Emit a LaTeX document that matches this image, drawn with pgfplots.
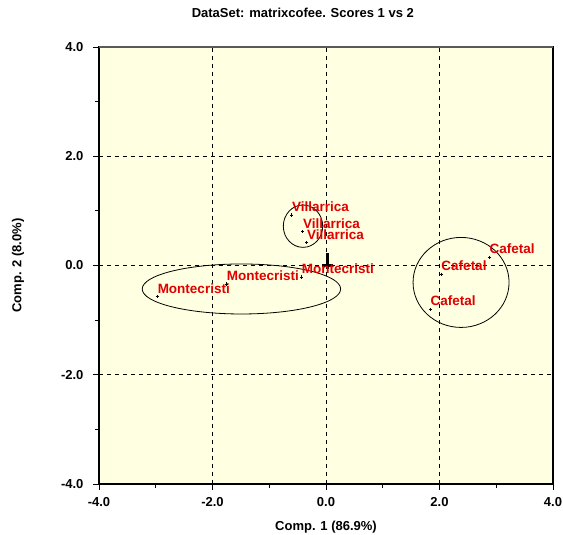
\documentclass[border=0pt]{standalone}
\usepackage{fontspec}
\setmainfont{Liberation Sans}
\usepackage{pgfplots}
\pgfplotsset{compat=1.18}
\usetikzlibrary{calc}
\definecolor{bgyellow}{RGB}{255,255,225}
\definecolor{lblred}{RGB}{225,0,0}
\definecolor{topgray}{RGB}{90,90,90}
\begin{document}
\begin{tikzpicture}
\begin{axis}[
  at={(0,0)}, anchor=south west,
  scale only axis, width=454pt, height=437pt,
  xmin=-4, xmax=4, ymin=-4, ymax=4,
  xtick={-4,-2,0,2,4}, ytick={-4,-2,0,2,4},
  minor xtick={-3,-1,1,3}, minor ytick={-3,-1,1,3},
  tick align=outside, tick pos=left,
  major tick length=6pt, minor tick length=4pt,
  every tick/.style={black, line width=0.8pt},
  axis line style={black, line width=1.2pt},
  axis background/.style={fill=bgyellow},
  tick label style={font=\fontsize{13}{15}\selectfont\bfseries},
  xticklabel style={yshift=-4pt},
  yticklabel style={xshift=-6pt},
  /pgf/number format/.cd, fixed, fixed zerofill, precision=1, assume math mode=true,
  /pgfplots/.cd,
  xlabel={Comp. 1 (86.9\%)}, ylabel={Comp. 2 (8.0\%)},
  label style={font=\fontsize{13}{15}\selectfont\bfseries},
  xlabel style={at={(axis description cs:0.5,-0.098)}, anchor=center},
  ylabel style={at={(axis description cs:-0.1784,0.5)}, anchor=center},
  title={DataSet: matrixcofee. Scores 1 vs 2},
  title style={at={(axis description cs:0.449,1.064)}, anchor=center, font=\fontsize{13}{15}\selectfont\bfseries},
  clip=false,
]
% grid
\draw[black, dashed, line width=0.7pt, dash pattern=on 4pt off 4pt] (axis cs:-2,-4) -- (axis cs:-2,4);
\draw[black, dashed, line width=0.7pt, dash pattern=on 4pt off 4pt] (axis cs:0,-4) -- (axis cs:0,4);
\draw[black, dashed, line width=0.7pt, dash pattern=on 4pt off 4pt] (axis cs:2,-4) -- (axis cs:2,4);
\draw[black, dashed, line width=0.7pt, dash pattern=on 4pt off 4pt] (axis cs:-4,-2) -- (axis cs:4,-2);
\draw[black, dashed, line width=0.7pt, dash pattern=on 4pt off 4pt] (axis cs:-4,0) -- (axis cs:4,0);
\draw[black, dashed, line width=0.7pt, dash pattern=on 4pt off 4pt] (axis cs:-4,2) -- (axis cs:4,2);
% ellipses
\draw[black, line width=0.8pt] (axis cs:-0.405,0.72) ellipse [x radius=19.7pt, y radius=21.2pt];
\draw[black, line width=0.8pt] (axis cs:-1.49,-0.43) ellipse [x radius=99.2pt, y radius=25pt];
\draw[black, line width=0.8pt] (axis cs:2.38,-0.31) ellipse [x radius=48pt, y radius=45pt];
% thick cross
\draw[black, line width=2.4pt] (axis cs:0.03,0.22) -- (axis cs:0.03,-0.065);
\draw[black, line width=2.2pt] (axis cs:-0.07,0.0) -- (axis cs:0.13,0.0);
\addplot[only marks, mark=+, mark size=1.6pt, black, line width=0.6pt,
  point meta=explicit symbolic,
  nodes near coords,
  every node near coord/.append style={anchor=base west, inner sep=0pt, yshift=3.5pt, text=lblred, font=\fontsize{13.5}{15}\selectfont\bfseries}]
  table[meta=label] {
x y label
-0.604 0.925 Villarrica
-0.41 0.62 Villarrica
-0.34 0.42 Villarrica
-2.97 -0.57 Montecristi
-1.75 -0.34 Montecristi
-0.43 -0.21 Montecristi
2.88 0.15 Cafetal
2.03 -0.16 Cafetal
1.84 -0.80 Cafetal
};
\draw[topgray, line width=1.2pt] (rel axis cs:0,1) -- (rel axis cs:1,1);
\end{axis}
\pgfresetboundingbox
\path[use as bounding box] (-99pt,-51pt) rectangle (464pt,484pt);
\end{tikzpicture}
\end{document}
